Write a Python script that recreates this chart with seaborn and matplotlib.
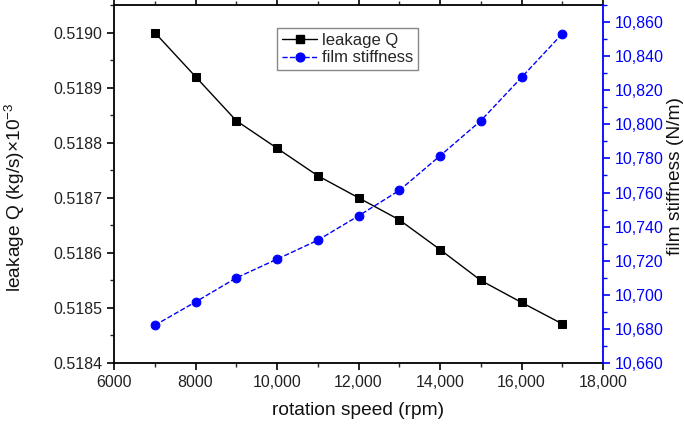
import matplotlib
matplotlib.use("Agg")
import matplotlib.pyplot as plt
import seaborn as sns
import pandas as pd
from matplotlib.ticker import FixedLocator, FixedFormatter, MultipleLocator
from matplotlib.lines import Line2D

speed = [7000, 8000, 9000, 10000, 11000, 12000, 13000, 14000, 15000, 16000, 17000]
leakage = [0.51900, 0.51892, 0.51884, 0.51879, 0.51874, 0.51870, 0.51866,
           0.518606, 0.51855, 0.51851, 0.518471]
stiffness = [10682.1, 10695.8, 10709.9, 10720.9, 10732.0, 10746.3, 10761.2,
             10781.5, 10802.1, 10827.5, 10853.1]

x_ticks = [6000, 8000, 10000, 12000, 14000, 16000, 18000]
x_ticklabels = ["6000", "8000", "10,000", "12,000", "14,000", "16,000", "18,000"]
left_ticks = [0.5184, 0.5185, 0.5186, 0.5187, 0.5188, 0.5189, 0.5190]
left_ticklabels = ["0.5184", "0.5185", "0.5186", "0.5187", "0.5188", "0.5189", "0.5190"]
right_ticks = [10660, 10680, 10700, 10720, 10740, 10760, 10780, 10800, 10820, 10840, 10860]
right_ticklabels = ["10,660", "10,680", "10,700", "10,720", "10,740", "10,760",
                    "10,780", "10,800", "10,820", "10,840", "10,860"]

sns.set_theme(style="ticks")
plt.rcParams["font.family"] = ["Liberation Sans", "DejaVu Sans"]
plt.rcParams["mathtext.fontset"] = "custom"
plt.rcParams["mathtext.rm"] = "Liberation Sans"
plt.rcParams["mathtext.it"] = "Liberation Sans:italic"
plt.rcParams["mathtext.bf"] = "Liberation Sans:bold"

df = pd.DataFrame({"speed": speed, "leakage": leakage, "stiffness": stiffness})

fig = plt.figure(figsize=(6.84, 4.28), dpi=100)
ax = fig.add_axes([114/684, 1 - 363/428, (603 - 114)/684, (363 - 5)/428])
ax2 = ax.twinx()

sns.lineplot(data=df, x="speed", y="leakage", ax=ax, color="black", marker="s",
             markersize=6, markeredgecolor="black", linewidth=1.0, legend=False)
sns.lineplot(data=df, x="speed", y="stiffness", ax=ax2, color="#0000ff", marker="o",
             markersize=6.3, markeredgecolor="#0000ff", linewidth=1.0, linestyle="--",
             legend=False)

ax.set_xlim(6000, 18000)
ax.set_ylim(0.5184, 0.51905)
ax2.set_ylim(10660, 10870)

ax.xaxis.set_major_locator(FixedLocator(x_ticks))
ax.xaxis.set_major_formatter(FixedFormatter(x_ticklabels))
ax.xaxis.set_minor_locator(MultipleLocator(1000))
ax.yaxis.set_major_locator(FixedLocator(left_ticks))
ax.yaxis.set_major_formatter(FixedFormatter(left_ticklabels))
ax.yaxis.set_minor_locator(MultipleLocator(0.00005))
ax2.yaxis.set_major_locator(FixedLocator(right_ticks))
ax2.yaxis.set_major_formatter(FixedFormatter(right_ticklabels))
ax2.yaxis.set_minor_locator(MultipleLocator(10))

ax.tick_params(axis="both", which="major", direction="out", length=5, width=1.2,
               labelsize=11.5, colors="black", labelcolor="#222222", top=True)
ax.tick_params(axis="both", which="minor", direction="out", length=3, width=1.0, top=True)
ax2.tick_params(axis="y", which="major", direction="out", length=5, width=1.2,
                labelsize=11.5, colors="#0000ff")
ax2.tick_params(axis="y", which="minor", direction="out", length=3, width=1.0,
                colors="#0000ff")

for s in ["left", "bottom", "top"]:
    ax.spines[s].set_visible(True)
    ax.spines[s].set_linewidth(1.3)
    ax.spines[s].set_color("black")
ax.spines["right"].set_visible(False)
ax2.spines["right"].set_visible(True)
ax2.spines["right"].set_color("#0000ff")
ax2.spines["right"].set_linewidth(1.3)
for s in ["left", "bottom", "top"]:
    ax2.spines[s].set_visible(False)

ax.set_xlabel("rotation speed (rpm)", fontsize=13.8, labelpad=9, color="#111111")
ax.set_ylabel(r"leakage Q (kg/s)×10$^{-3}$", fontsize=13.8, color="#111111")
ax.yaxis.set_label_coords((27 - 114)/489, (363 - 197)/358)
ax2.set_ylabel("")
fig.text(675/684, 1 - 176/428, "film stiffness (N/m)", rotation=90, ha="center",
         va="center", fontsize=13.8, color="#111111")

handles = [
    Line2D([], [], color="black", marker="s", markersize=6, linewidth=1.0),
    Line2D([], [], color="#0000ff", marker="o", markersize=6.3, linewidth=1.0, linestyle="--"),
]
leg = ax.legend(handles, ["leakage Q", "film stiffness"], loc="upper left",
                bbox_to_anchor=((277 - 114)/489, (363 - 28)/358), fontsize=12,
                frameon=True, fancybox=False, edgecolor="#888888", framealpha=1,
                handlelength=2.1, handletextpad=0.3, borderpad=0.3, labelspacing=0.15,
                borderaxespad=0)
leg.get_frame().set_linewidth(1.0)

fig.savefig("out.png", dpi=100)
